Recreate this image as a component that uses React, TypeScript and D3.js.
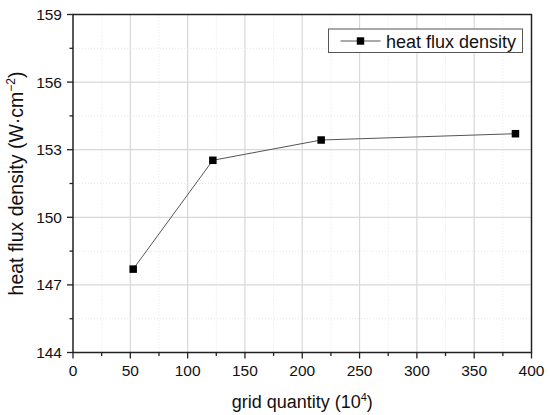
import { useMemo } from 'react'
import * as d3 from 'd3'

// grid quantity (10^4) vs heat flux density
const gridQuantity = [52.5, 122, 216.5, 386]
const heatFlux = [147.7, 152.53, 153.43, 153.71]
const xTicks = [0, 50, 100, 150, 200, 250, 300, 350, 400]
const xMinor = [25, 75, 125, 175, 225, 275, 325, 375]
const yTicks = [144, 147, 150, 153, 156, 159]
const yMinor = [145.5, 148.5, 151.5, 154.5, 157.5]
const seriesName = 'heat flux density'

const W = 550
const H = 415
const margin = { top: 14.5, right: 18.5, bottom: 62.5, left: 73 }
const FONT = '"Liberation Sans", Arial, sans-serif'

export default function App() {
  const w = W - margin.left - margin.right
  const h = H - margin.top - margin.bottom

  const x = useMemo(() => d3.scaleLinear().domain([0, 400]).range([0, w]), [w])
  const y = useMemo(() => d3.scaleLinear().domain([144, 159]).range([h, 0]), [h])

  const points = gridQuantity.map((g, i) => ({ g, v: heatFlux[i] }))
  const line = d3.line<{ g: number; v: number }>()
    .x(d => x(d.g))
    .y(d => y(d.v))

  const ms = 7.5

  return (
    <svg width={W} height={H} style={{ position: 'absolute', left: 0, top: 0, background: '#fff' }} fontFamily={FONT}>
      <rect width={W} height={H} fill="#fff" />
      <g transform={`translate(${margin.left},${margin.top})`}>
        {/* minor grid, dotted */}
        {xMinor.map(t => (
          <line key={`xm${t}`} x1={x(t)} x2={x(t)} y1={0} y2={h} stroke="#e6e6e6" strokeWidth={1} strokeDasharray="1,2" />
        ))}
        {yMinor.map(t => (
          <line key={`ym${t}`} x1={0} x2={w} y1={y(t)} y2={y(t)} stroke="#e6e6e6" strokeWidth={1} strokeDasharray="1,2" />
        ))}
        {/* major grid */}
        {xTicks.slice(1, -1).map(t => (
          <line key={`xg${t}`} x1={x(t)} x2={x(t)} y1={0} y2={h} stroke="#d8d8d8" strokeWidth={1.2} />
        ))}
        {yTicks.slice(1, -1).map(t => (
          <line key={`yg${t}`} x1={0} x2={w} y1={y(t)} y2={y(t)} stroke="#d8d8d8" strokeWidth={1.2} />
        ))}

        {/* frame */}
        <rect x={0} y={0} width={w} height={h} fill="none" stroke="#222" strokeWidth={1.5} />

        {/* x ticks */}
        {xTicks.map(t => (
          <g key={`xt${t}`}>
            <line x1={x(t)} x2={x(t)} y1={h} y2={h + 6} stroke="#222" strokeWidth={1.3} />
            <text x={x(t)} y={h + 23.5} textAnchor="middle" fontSize={15.5} fill="#111">{t}</text>
          </g>
        ))}
        {xMinor.map(t => (
          <line key={`xmt${t}`} x1={x(t)} x2={x(t)} y1={h} y2={h + 3.5} stroke="#222" strokeWidth={1.3} />
        ))}

        {/* y ticks */}
        {yTicks.map(t => (
          <g key={`yt${t}`}>
            <line x1={-6} x2={0} y1={y(t)} y2={y(t)} stroke="#222" strokeWidth={1.3} />
            <text x={-11} y={y(t)} dy="0.35em" textAnchor="end" fontSize={15.5} fill="#111">{t}</text>
          </g>
        ))}
        {yMinor.map(t => (
          <line key={`ymt${t}`} x1={-3.5} x2={0} y1={y(t)} y2={y(t)} stroke="#222" strokeWidth={1.3} />
        ))}

        {/* data line */}
        <path d={line(points) ?? ''} fill="none" stroke="#555" strokeWidth={1} />
        {points.map(p => (
          <rect key={p.g} x={x(p.g) - ms / 2} y={y(p.v) - ms / 2} width={ms} height={ms} fill="#000" />
        ))}

        {/* axis titles */}
        <text x={w / 2} y={h + 55} textAnchor="middle" fontSize={18} fill="#111">
          grid quantity (10<tspan dy={-7} fontSize={11}>4</tspan><tspan dy={7}>)</tspan>
        </text>
        <text transform={`translate(${-50},${h / 2}) rotate(-90)`} textAnchor="middle" fontSize={19.5} fill="#111">
          heat flux density (W·cm<tspan dy={-8} fontSize={12}>−2</tspan><tspan dy={8}>)</tspan>
        </text>

        {/* legend */}
        <g transform={`translate(${328.5 - margin.left},${29 - margin.top})`}>
          <rect x={0} y={0} width={194} height={23.5} fill="#fff" stroke="#555" strokeWidth={1} />
          <line x1={12} x2={52} y1={12} y2={12} stroke="#555" strokeWidth={1} />
          <rect x={32 - 3.7} y={12 - 3.7} width={7.4} height={7.4} fill="#000" />
          <text x={57.5} y={12.5} dy="0.35em" fontSize={18} fill="#111">{seriesName}</text>
        </g>
      </g>
    </svg>
  )
}
